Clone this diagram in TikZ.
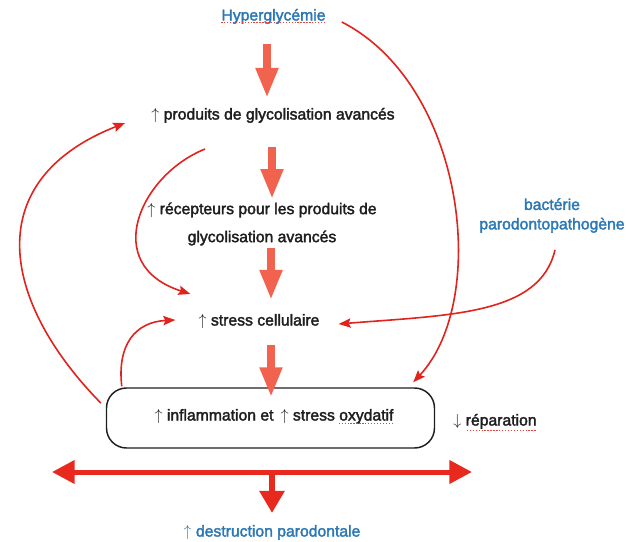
\documentclass[tikz,border=0pt]{standalone}
\usepackage{fontspec}
\setmainfont{Liberation Sans}[FakeBold=2.2]
\usetikzlibrary{arrows.meta,calc}
\definecolor{ink}{HTML}{1E1E1E}
\definecolor{bluetxt}{HTML}{2B78B5}
\definecolor{coral}{HTML}{F2634F}
\definecolor{curve}{HTML}{E0231C}
\definecolor{bigred}{HTML}{E8291E}
\definecolor{squiggle}{HTML}{E8403A}
\begin{document}
\begin{tikzpicture}[x=0.75pt,y=-0.75pt,
  lbl/.style={inner sep=0pt, text height=0.75em, text depth=0.22em,
    font=\fontsize{11.8pt}{14pt}\selectfont, text=ink},
  multi/.style={inner sep=0pt, align=center, text=ink},
  blue/.style={text=bluetxt},
  flow/.style={draw=coral, line width=6pt,
    -{Triangle[length=22.5pt,width=15.75pt]}},
  link/.style={draw=curve, line width=1.2pt,
    -{Stealth[length=9pt,width=7pt,inset=1.5pt]}},
  spell/.style={draw=squiggle, line width=1pt, dash pattern=on 1pt off 1.2pt},
  panel/.style={draw=ink, line width=1.1pt, rounded corners=15pt,
    minimum width=246pt, minimum height=45pt, inner sep=0pt}]
\useasboundingbox (0,0) rectangle (626,542);

% labels
\node[lbl,blue] (hyper) at (273.5,17) {Hyperglycémie};
\node[lbl] (age) at (273,116) {$\uparrow$ produits de glycolisation avancés};
\node[multi,font=\fontsize{11.8pt}{21pt}\selectfont] (rage) at (262,224)
  {$\uparrow$ récepteurs pour les produits de\\glycolisation avancés};
\node[lbl] (stress) at (259,322) {$\uparrow$ stress cellulaire};
\node[panel] (box) at (270.5,418) {};
\node[lbl] (infl) at (274,417) {$\uparrow$ inflammation et \,$\uparrow$ stress oxydatif};
\node[lbl] (repar) at (495,422) {$\downarrow$ réparation};
\node[multi,blue,font=\fontsize{11.8pt}{14.6pt}\selectfont] (bact) at (552,215.5)
  {bactérie\\parodontopathogène};
\node[lbl,blue] (destr) at (272,533) {$\uparrow$ destruction parodontale};

% spell-check underlines
\draw[spell] ($(hyper.south west)+(0,-1)$) -- ($(hyper.south east)+(0,-1)$);
\draw[spell] ($(infl.south east)+(-55,0)$) -- ($(infl.south east)+(-1,0)$);
\draw[spell] ($(repar.south east)+(-70,2)$) -- ($(repar.south east)+(0,2)$);

% main cascade
\draw[flow] ($(hyper.south)+(-6.5,20.3)$) -- ($(age.north)+(-6,-11.3)$);
\draw[flow] ($(age.south)+(-1,24.3)$) -- ($(age.south)+(-1,76.3)$);
\draw[flow] ($(stress.north)+(12,-67.3)$) -- ($(stress.north)+(12,-15.3)$);
\draw[flow] ($(stress.south)+(12,16.3)$) -- ($(box.north)+(0.5,10)$);

% feedback and side links
\draw[link] ($(hyper.east)+(16,5)$) .. controls (465,85) and (490,300)
  .. ($(box.north east)+(-22,-5)$);
\draw[link] ($(age.south)+(-68,26.3)$) .. controls (140,175) and (100,265)
  .. ($(stress.north west)+(-8,-21.3)$);
\draw[link] ($(box.west)+(-5,-15)$) .. controls (0,300) and (-20,180)
  .. ($(age.west)+(-26,7)$);
\draw[link] ($(box.north west)+(16,-1)$) .. controls (117,345) and (135,322)
  .. ($(stress.west)+(-23,-2)$);
\draw[link] ($(bact.south)+(3,17)$) .. controls (540,315) and (450,315)
  .. ($(stress.east)+(19,2)$);

% outcome arrows
\coordinate (dl) at (52,472);
\coordinate (dr) at (472,472);
\coordinate (dm) at ($(dl)!(destr.north)!(dr)$);
\draw[draw=bigred, line width=3.75pt,
  {Triangle[length=17pt,width=17pt]}-{Triangle[length=17pt,width=17pt]}] (dl) -- (dr);
\draw[draw=bigred, line width=5pt, -{Triangle[length=16.5pt,width=18pt]}]
  (dm) -- ($(destr.north)+(0,-13.3)$);
\end{tikzpicture}
\end{document}
